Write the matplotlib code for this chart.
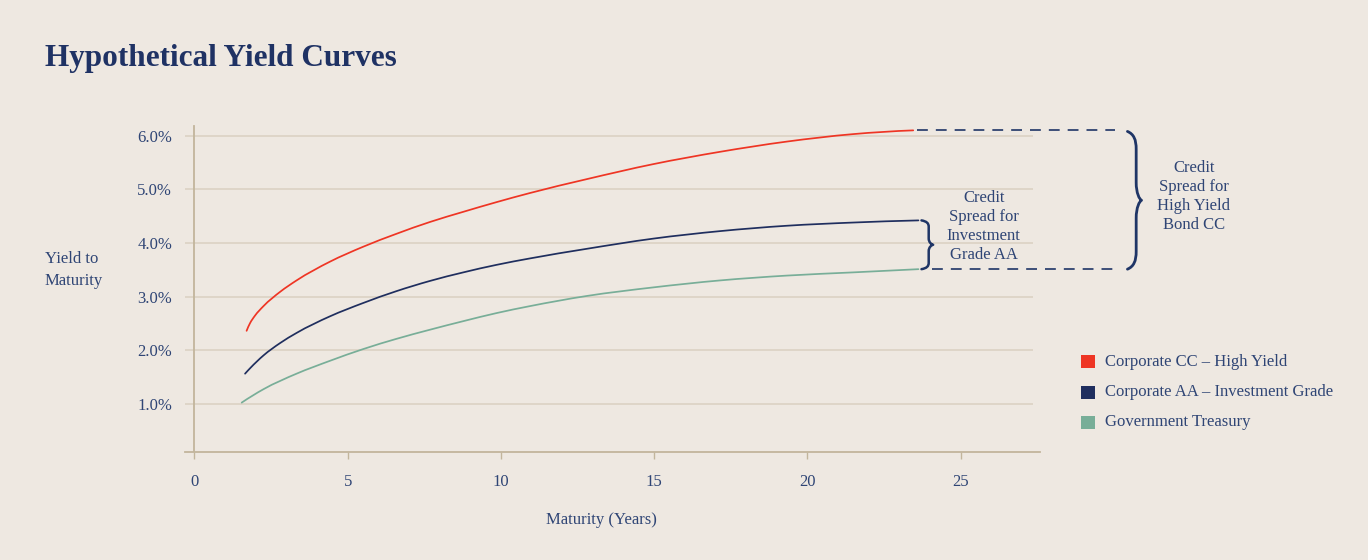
import matplotlib
matplotlib.use("Agg")
import matplotlib.pyplot as plt
from matplotlib.path import Path
from matplotlib.patches import PathPatch, Rectangle

plt.rcParams["font.family"] = ["Liberation Serif", "DejaVu Serif"]

# ---- data -------------------------------------------------------------
series_names = [
    "Corporate CC \u2013 High Yield",
    "Corporate AA \u2013 Investment Grade",
    "Government Treasury",
]

maturity_cc = [1.70, 1.81, 1.97, 2.25, 2.80, 3.33, 4.42, 5.51, 6.59, 7.68,
               8.77, 9.85, 10.94, 12.80, 14.97, 17.15, 19.32, 21.49, 23.45]
yield_cc = [2.36, 2.50, 2.64, 2.82, 3.09, 3.30, 3.65, 3.93, 4.17, 4.39,
            4.58, 4.76, 4.93, 5.19, 5.47, 5.70, 5.89, 6.03, 6.10]

maturity_aa = [1.65, 1.82, 2.25, 2.79, 3.33, 4.42, 5.51, 6.59, 7.68, 8.77,
               9.85, 10.94, 12.80, 14.97, 17.15, 19.32, 21.49, 23.62]
yield_aa = [1.56, 1.665, 1.90, 2.13, 2.32, 2.63, 2.88, 3.10, 3.29, 3.45,
            3.59, 3.71, 3.89, 4.08, 4.22, 4.32, 4.38, 4.42]

maturity_tsy = [1.54, 2.25, 3.33, 4.42, 5.51, 6.59, 7.68, 8.77, 9.85, 10.94,
                12.80, 14.97, 17.15, 19.32, 21.49, 23.62]
yield_tsy = [1.02, 1.27, 1.56, 1.80, 2.02, 2.21, 2.38, 2.54, 2.69, 2.82,
             3.01, 3.17, 3.30, 3.39, 3.45, 3.51]

x_ticks = [0, 5, 10, 15, 20, 25]
y_ticks = [1.0, 2.0, 3.0, 4.0, 5.0, 6.0]
y_tick_labels = ["1.0%", "2.0%", "3.0%", "4.0%", "5.0%", "6.0%"]

# ---- styling ----------------------------------------------------------
BG = "#EEE8E1"
GRID = "#DDD4C6"
AXIS = "#C2B59C"
TITLE = "#1F3264"
TEXT = "#2F4575"
NAVY_MARK = "#1F3566"
colors = ["#EE3524", "#1F2E5E", "#78AE98"]

W, H = 1368, 560
fig = plt.figure(figsize=(W / 100, H / 100), dpi=100, facecolor=BG)
ax = fig.add_axes([185.3 / W, 107.7 / H, 855.1 / W, 327.3 / H])
ax.set_facecolor(BG)
ax.set_xlim(-0.3, 27.6)
ax.set_ylim(0.093, 6.2)

for s in ["top", "right", "left"]:
    ax.spines[s].set_visible(False)
ax.spines["bottom"].set_color(AXIS)
ax.spines["bottom"].set_linewidth(1.3)

# horizontal guides and the vertical axis line
for yv in y_ticks:
    ax.plot([-0.3, 27.36], [yv, yv], color=GRID, lw=1.3, zorder=1,
            solid_capstyle="butt")
ax.plot([0, 0], [0.093, 6.18], color=AXIS, lw=1.3, zorder=1)

ax.set_xticks(x_ticks)
ax.set_xticklabels([str(t) for t in x_ticks])
ax.tick_params(axis="x", direction="out", length=5, width=1, color=AXIS,
               pad=10.5, labelsize=12, labelcolor=TEXT)
ax.set_yticks(y_ticks)
ax.set_yticklabels(y_tick_labels)
ax.tick_params(axis="y", length=0, pad=9.5, labelsize=12, labelcolor=TEXT)


def smooth_path(xs, ys):
    """Smoothed line through the points (cubic Hermite as Bezier segments)."""
    n = len(xs)
    h = [xs[i + 1] - xs[i] for i in range(n - 1)]
    d = [(ys[i + 1] - ys[i]) / h[i] for i in range(n - 1)]
    m = [0.0] * n
    for i in range(1, n - 1):
        m[i] = (d[i - 1] * h[i] + d[i] * h[i - 1]) / (h[i - 1] + h[i])
    m[0] = d[0] + (d[0] - d[1]) * h[0] / (h[0] + h[1])
    m[-1] = d[-1] + (d[-1] - d[-2]) * h[-1] / (h[-1] + h[-2])
    verts = [(xs[0], ys[0])]
    codes = [Path.MOVETO]
    for i in range(n - 1):
        t = h[i] / 3
        verts += [(xs[i] + t, ys[i] + m[i] * t),
                  (xs[i + 1] - t, ys[i + 1] - m[i + 1] * t),
                  (xs[i + 1], ys[i + 1])]
        codes += [Path.CURVE4] * 3
    return Path(verts, codes)


# yield curves
curves = [(maturity_cc, yield_cc), (maturity_aa, yield_aa),
          (maturity_tsy, yield_tsy)]
for (mx, my), c in zip(curves, colors):
    ax.add_patch(PathPatch(smooth_path(mx, my), facecolor="none",
                           edgecolor=c, lw=1.25, zorder=3,
                           capstyle="round"))

y_top = yield_cc[-1]
y_mid = yield_aa[-1]
y_bot = yield_tsy[-1]

# dashed reference lines out to the high-yield brace
dash = (0, (6.5, 4.8))
ax.plot([23.56, 30.05], [y_top, y_top], color=NAVY_MARK, lw=1.2,
        linestyle=dash, clip_on=False)
ax.plot([24.05, 30.05], [y_bot, y_bot], color=NAVY_MARK, lw=1.2,
        linestyle=dash, clip_on=False)


def brace(x0, width, y_hi, y_lo, lw):
    """Right-pointing curly brace spanning y_lo..y_hi, left edge at x0."""
    span = y_hi - y_lo
    ym = (y_hi + y_lo) / 2
    q = span * 0.13
    xm = x0 + width * 0.62
    xt = x0 + width
    verts = [
        (x0, y_hi),
        (x0 + width * 0.45, y_hi - q * 0.15), (xm, y_hi - q * 0.45),
        (xm, y_hi - q),
        (xm, ym + q),
        (xm, ym + q * 0.4), (xt - width * 0.15, ym + q * 0.05), (xt, ym),
        (xt - width * 0.15, ym - q * 0.05), (xm, ym - q * 0.4), (xm, ym - q),
        (xm, y_lo + q),
        (xm, y_lo + q * 0.45), (x0 + width * 0.45, y_lo + q * 0.15),
        (x0, y_lo),
    ]
    codes = [Path.MOVETO,
             Path.CURVE4, Path.CURVE4, Path.CURVE4,
             Path.LINETO,
             Path.CURVE4, Path.CURVE4, Path.CURVE4,
             Path.CURVE4, Path.CURVE4, Path.CURVE4,
             Path.LINETO,
             Path.CURVE4, Path.CURVE4, Path.CURVE4]
    ax.add_patch(PathPatch(Path(verts, codes), facecolor="none",
                           edgecolor=NAVY_MARK, lw=lw, clip_on=False,
                           capstyle="round", joinstyle="round"))


brace(23.72, 0.38, y_mid, y_bot, 1.8)
brace(30.44, 0.46, y_top - 0.02, y_bot, 2.0)

ax.text(25.75, 4.31,
        "Credit\nSpread for\nInvestment\nGrade AA",
        ha="center", va="center", fontsize=12, color=TEXT,
        linespacing=1.26, clip_on=False)
ax.text(32.6, 4.87,
        "Credit\nSpread for\nHigh Yield\nBond CC",
        ha="center", va="center", fontsize=12, color=TEXT,
        linespacing=1.26, clip_on=False)

# titles and axis labels
fig.text(45 / W, 1 - 65.7 / H, "Hypothetical Yield Curves",
         fontsize=22.5, fontweight="bold", color=TITLE, va="baseline")
fig.text(45 / W, 1 - 270 / H, "Yield to\nMaturity", fontsize=12,
         color=TEXT, ha="left", va="center", linespacing=1.42)
fig.text(601 / W, 1 - 520 / H, "Maturity (Years)", fontsize=12,
         color=TEXT, ha="center", va="center")

# legend
row_y = [361.7, 392.3, 422.3]
for name, c, ry in zip(series_names, colors, row_y):
    fig.add_artist(Rectangle((1081 / W, 1 - (ry + 6.7) / H), 13.5 / W,
                             13.5 / H, transform=fig.transFigure,
                             facecolor=c, edgecolor="none"))
    fig.text(1105 / W, 1 - ry / H, name, fontsize=12, color=TEXT,
             ha="left", va="center")

fig.savefig("out.png", dpi=100, facecolor=BG)
